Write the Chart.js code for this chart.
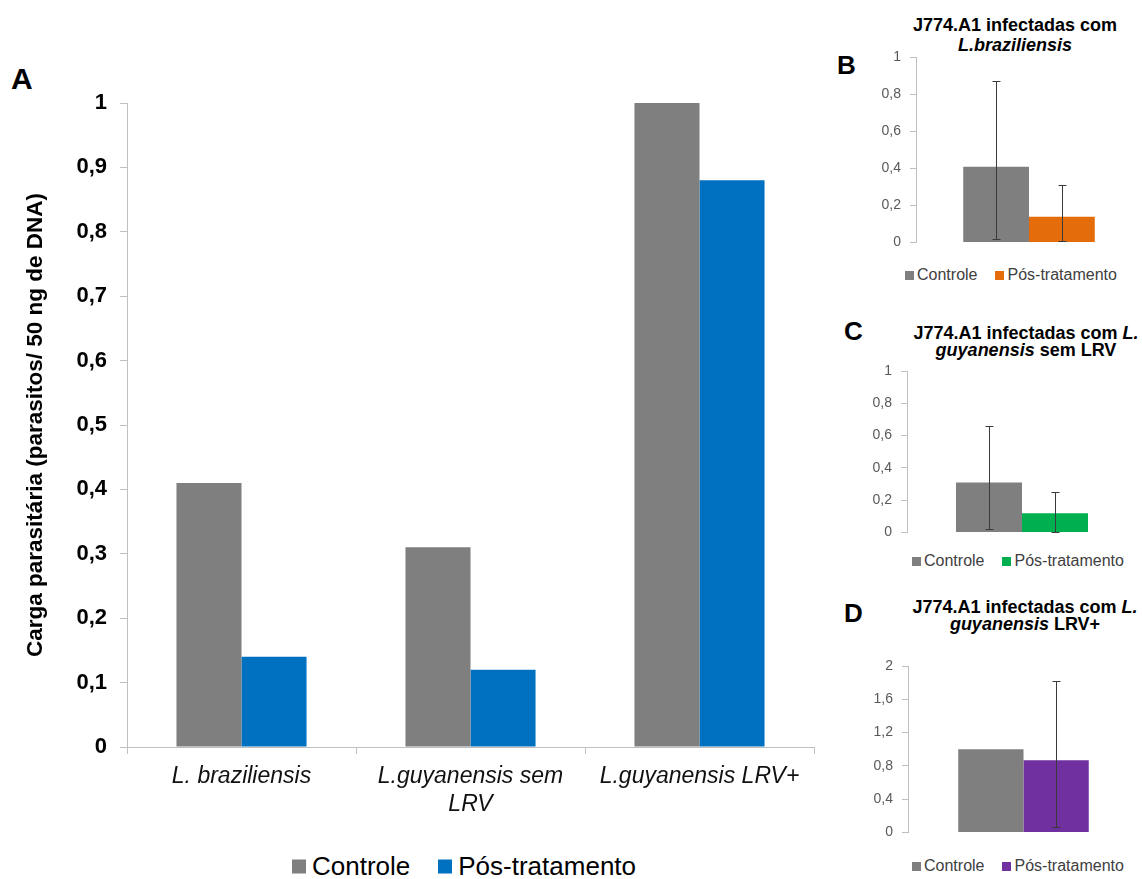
<!DOCTYPE html>
<html>
<head>
<meta charset="utf-8">
<title>Carga parasitária</title>
<script src="https://cdn.jsdelivr.net/npm/chart.js@4.4.1/dist/chart.umd.min.js"></script>
<style>
  html, body { margin: 0; padding: 0; background: #fff; overflow: hidden; }
  body { width: 1142px; height: 879px; position: relative; font-family: 'Liberation Sans', Arial, sans-serif; }
  canvas { position: absolute; }
  .panel { position: absolute; font-weight: bold; color: #000; line-height: 1; }
  .title { position: absolute; font-weight: bold; font-size: 18px; color: #000; text-align: center; white-space: nowrap; transform: translateX(-50%); }
  .legend { position: absolute; display: flex; align-items: center; white-space: nowrap; transform: translateY(-50%); }
  .legend .item { display: flex; align-items: center; }
  .legend .sw { display: inline-block; }
</style>
</head>
<body>

<div class="panel" style="left:11px; top:64px; font-size:30px;">A</div>
<div class="panel" style="left:837px; top:52px; font-size:26px;">B</div>
<div class="panel" style="left:844px; top:318px; font-size:26px;">C</div>
<div class="panel" style="left:844px; top:600px; font-size:26px;">D</div>

<div class="title" style="left:1015px; top:15px; line-height:20px;">J774.A1 infectadas com<br><i>L.braziliensis</i></div>
<div class="title" style="left:1026px; top:325px; line-height:17px;">J774.A1 infectadas com <i>L.</i><br><i>guyanensis</i> sem LRV</div>
<div class="title" style="left:1025px; top:599px; line-height:17px;">J774.A1 infectadas com <i>L.</i><br><i>guyanensis</i> LRV+</div>

<canvas id="chartA" width="830" height="840" style="left:0; top:0;"></canvas>
<canvas id="chartB" width="302" height="220" style="left:840px; top:40px;"></canvas>
<canvas id="chartC" width="312" height="200" style="left:830px; top:350px;"></canvas>
<canvas id="chartD" width="312" height="205" style="left:830px; top:645px;"></canvas>

<div id="legendA" class="legend" style="left:292px; top:866px; font-size:26px; color:#000;"></div>
<div id="legendB" class="legend" style="left:905px; top:275px; font-size:16px; color:#404040;"></div>
<div id="legendC" class="legend" style="left:912px; top:561px; font-size:16px; color:#404040;"></div>
<div id="legendD" class="legend" style="left:912px; top:866px; font-size:16px; color:#404040;"></div>

<script>
// Series names shared by all four panels
const seriesNames = ['Controle', 'Pós-tratamento'];

// Panel A: parasite load per strain
const categoriesA = ['L. braziliensis', ['L.guyanensis sem', 'LRV'], 'L.guyanensis LRV+'];
const controleA = [0.41, 0.31, 1.0];
const posTratamentoA = [0.14, 0.12, 0.88];
const yTicksA = ['0', '0,1', '0,2', '0,3', '0,4', '0,5', '0,6', '0,7', '0,8', '0,9', '1'];

// Panel B: L. braziliensis
const controleB = [0.41];
const posTratamentoB = [0.14];
const erroInfB = [[0.02], [0.01]];
const erroSupB = [[0.87], [0.31]];
const yTicksB = ['0', '0,2', '0,4', '0,6', '0,8', '1'];

// Panel C: L. guyanensis sem LRV
const controleC = [0.31];
const posTratamentoC = [0.12];
const erroInfC = [[0.02], [0.005]];
const erroSupC = [[0.66], [0.25]];
const yTicksC = ['0', '0,2', '0,4', '0,6', '0,8', '1'];

// Panel D: L. guyanensis LRV+
const controleD = [1.0];
const posTratamentoD = [0.87];
const erroInfD = [[null], [0.07]];
const erroSupD = [[null], [1.82]];
const yTicksD = ['0', '0,4', '0,8', '1,2', '1,6', '2'];

const cinza = '#7f7f7f';
const azul = '#0070c0';
const laranja = '#e46c0a';
const verde = '#00b050';
const roxo = '#7030a0';
const eixo = '#bfbfbf';

Chart.defaults.font.family = "'Liberation Sans', Arial, sans-serif";

// Vertical error bars with caps, placed on each bar through the y scale
function errorBars(lows, highs) {
  return {
    id: 'errorBars',
    afterDatasetsDraw(chart) {
      const y = chart.scales.y;
      const ctx = chart.ctx;
      const cap = 4;
      ctx.save();
      ctx.strokeStyle = '#3a3a3a';
      ctx.lineWidth = 1;
      chart.data.datasets.forEach((ds, i) => {
        const meta = chart.getDatasetMeta(i);
        meta.data.forEach((bar, j) => {
          const lo = lows[i][j];
          const hi = highs[i][j];
          if (lo == null || hi == null) return;
          const x = Math.round(bar.x) + 0.5;
          const y1 = Math.round(y.getPixelForValue(lo)) + 0.5;
          const y2 = Math.round(y.getPixelForValue(hi)) + 0.5;
          ctx.beginPath();
          ctx.moveTo(x, y1); ctx.lineTo(x, y2);
          ctx.moveTo(x - cap, y1); ctx.lineTo(x + cap, y1);
          ctx.moveTo(x - cap, y2); ctx.lineTo(x + cap, y2);
          ctx.stroke();
        });
      });
      ctx.restore();
    }
  };
}

function buildLegend(el, chart, size, gap, spacing) {
  chart.data.datasets.forEach((ds, i) => {
    const item = document.createElement('span');
    item.className = 'item';
    if (i > 0) item.style.marginLeft = spacing + 'px';
    const sw = document.createElement('span');
    sw.className = 'sw';
    sw.style.width = size + 'px';
    sw.style.height = size + 'px';
    sw.style.background = ds.backgroundColor;
    sw.style.marginRight = gap + 'px';
    const tx = document.createElement('span');
    tx.textContent = ds.label;
    item.appendChild(sw);
    item.appendChild(tx);
    el.appendChild(item);
  });
}

// ---- Panel A ----
const chartA = new Chart(document.getElementById('chartA'), {
  type: 'bar',
  data: {
    labels: categoriesA,
    datasets: [
      { label: seriesNames[0], data: controleA, backgroundColor: cinza, categoryPercentage: 0.568, barPercentage: 1 },
      { label: seriesNames[1], data: posTratamentoA, backgroundColor: azul, categoryPercentage: 0.568, barPercentage: 1 }
    ]
  },
  options: {
    responsive: false,
    animation: false,
    layout: { padding: { left: 0, top: 103, right: 16, bottom: 10 } },
    plugins: { legend: { display: false }, tooltip: { enabled: false } },
    scales: {
      x: {
        grid: { drawOnChartArea: false, drawTicks: true, tickLength: 7, color: eixo, offset: true },
        border: { color: eixo },
        ticks: { font: { size: 23, style: 'italic' }, color: '#111', padding: 9, maxRotation: 0, autoSkip: false },
        afterFit: (s) => { s.height = 83; }
      },
      y: {
        min: 0, max: 1,
        ticks: { stepSize: 0.1, callback: (v, i) => yTicksA[i], font: { size: 22, weight: 'bold' }, color: '#000', padding: 13 },
        grid: { drawOnChartArea: false, tickLength: 7, color: eixo },
        border: { color: eixo },
        title: {
          display: true,
          text: 'Carga parasitária (parasitos/ 50 ng de DNA)',
          font: { size: 22.5, weight: 'bold' },
          color: '#000',
          padding: { top: 22, bottom: 0 }
        },
        afterFit: (s) => { s.width = 127; }
      }
    }
  }
});
buildLegend(document.getElementById('legendA'), chartA, 14, 6, 28);

// ---- Small panels ----
function smallChart(id, ctrl, pos, color, lows, highs, max, step, ticks, yWidth, pad, catPct) {
  return new Chart(document.getElementById(id), {
    type: 'bar',
    data: {
      labels: [''],
      datasets: [
        { label: seriesNames[0], data: ctrl, backgroundColor: cinza, categoryPercentage: catPct, barPercentage: 1 },
        { label: seriesNames[1], data: pos, backgroundColor: color, categoryPercentage: catPct, barPercentage: 1 }
      ]
    },
    options: {
      responsive: false,
      animation: false,
      layout: { padding: pad },
      plugins: { legend: { display: false }, tooltip: { enabled: false } },
      scales: {
        x: { display: false },
        y: {
          min: 0, max: max,
          ticks: { stepSize: step, callback: (v, i) => ticks[i], font: { size: 14 }, color: '#595959', padding: 9 },
          grid: { drawOnChartArea: false, tickLength: 6, color: eixo },
          border: { color: eixo },
          afterFit: (s) => { s.width = yWidth; }
        }
      }
    },
    plugins: [errorBars(lows, highs)]
  });
}

const chartB = smallChart('chartB', controleB, posTratamentoB, laranja, erroInfB, erroSupB, 1, 0.2, yTicksB,
  76, { left: 0, top: 17, right: 0, bottom: 13 }, 0.582);
const chartC = smallChart('chartC', controleC, posTratamentoC, verde, erroInfC, erroSupC, 1, 0.2, yTicksC,
  77, { left: 0, top: 21, right: 5, bottom: 15 }, 0.574);
const chartD = smallChart('chartD', controleD, posTratamentoD, roxo, erroInfD, erroSupD, 2, 0.4, yTicksD,
  78, { left: 0, top: 21, right: 3, bottom: 16 }, 0.565);

buildLegend(document.getElementById('legendB'), chartB, 9, 3, 18);
buildLegend(document.getElementById('legendC'), chartC, 9, 3, 18);
buildLegend(document.getElementById('legendD'), chartD, 9, 3, 18);
</script>
</body>
</html>
